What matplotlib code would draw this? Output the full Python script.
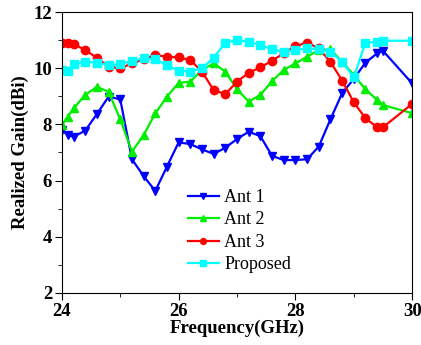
import numpy as np
import matplotlib
matplotlib.use("Agg")
import matplotlib.pyplot as plt
from matplotlib.ticker import MultipleLocator

plt.rcParams['font.family'] = ['Liberation Serif', 'DejaVu Serif']

# frequency points (GHz)
freq = [24.0, 24.1, 24.2, 24.4, 24.6, 24.8, 25.0, 25.2, 25.4, 25.6, 25.8,
        26.0, 26.2, 26.4, 26.6, 26.8, 27.0, 27.2, 27.4, 27.6, 27.8, 28.0,
        28.2, 28.4, 28.6, 28.8, 29.0, 29.2, 29.4, 29.5, 30.0]

ant1 = [7.80, 7.62, 7.56, 7.78, 8.37, 8.99, 8.89, 6.76, 6.16, 5.63, 6.50,
        7.36, 7.30, 7.11, 6.95, 7.17, 7.48, 7.74, 7.58, 6.88, 6.73, 6.73,
        6.76, 7.21, 8.18, 9.11, 9.62, 10.20, 10.53, 10.62, 9.46]

ant2 = [7.98, 8.27, 8.57, 9.05, 9.34, 9.16, 8.18, 7.03, 7.62, 8.39, 8.99,
        9.48, 9.52, 9.94, 10.17, 9.88, 9.25, 8.81, 9.05, 9.54, 9.94, 10.17,
        10.41, 10.65, 10.67, 10.23, 9.76, 9.25, 8.87, 8.69, 8.40]

ant3 = [10.89, 10.89, 10.86, 10.65, 10.37, 10.05, 10.00, 10.17, 10.32, 10.47, 10.41,
        10.39, 10.29, 9.88, 9.22, 9.08, 9.52, 9.84, 10.03, 10.27, 10.53, 10.79,
        10.91, 10.71, 10.23, 9.56, 8.79, 8.22, 7.90, 7.90, 8.73]

proposed = [9.94, 9.91, 10.15, 10.23, 10.20, 10.11, 10.15, 10.26, 10.35, 10.32, 10.11,
            9.91, 9.88, 10.00, 10.37, 10.91, 11.00, 10.94, 10.83, 10.67, 10.59, 10.65,
            10.71, 10.67, 10.59, 10.23, 9.68, 10.91, 10.94, 10.98, 10.98]

fig = plt.figure(figsize=(4.21, 3.45), dpi=100)
ax = fig.add_axes([0.147, 0.151, 0.832, 0.814])

ax.plot(freq, ant1, color='#0000ff', marker='v', ms=6, lw=1.6, label='Ant 1')
ax.plot(freq, ant2, color='#00ee00', marker='^', ms=6, lw=1.6, label='Ant 2')
ax.plot(freq, ant3, color='#ff0000', marker='o', ms=6, lw=1.6, label='Ant 3')
ax.plot(freq, proposed, color='#00ffff', marker='s', ms=5.5, lw=1.6, label='Proposed')

ax.set_xlim(24, 30)
ax.set_ylim(2, 12)
ax.xaxis.set_major_locator(MultipleLocator(2))
ax.xaxis.set_minor_locator(MultipleLocator(1))
ax.yaxis.set_major_locator(MultipleLocator(2))
ax.yaxis.set_minor_locator(MultipleLocator(1))
ax.tick_params(which='both', direction='out', top=False, right=False)
ax.tick_params(which='major', length=5, labelsize=13.5, pad=2)
ax.tick_params(which='minor', length=3)
for lab in ax.get_xticklabels() + ax.get_yticklabels():
    lab.set_fontweight('bold')

ax.set_xlabel('Frequency(GHz)', fontsize=13.5, fontweight='bold', labelpad=0)
ax.set_ylabel('Realized Gain(dBi)', fontsize=13.5, fontweight='bold', labelpad=3)

leg = ax.legend(loc='upper left', bbox_to_anchor=(0.36, 0.37), frameon=False,
                fontsize=13, markerscale=0.7, handlelength=1.7,
                handletextpad=0.3, labelspacing=0.3, borderpad=0,
                borderaxespad=0)

fig.savefig('out.png', dpi=100)
